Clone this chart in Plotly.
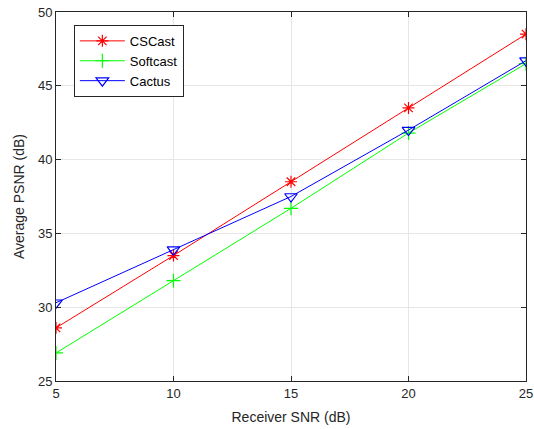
import plotly.graph_objects as go

snr = [5, 10, 15, 20, 25]
cscast = [28.6, 33.5, 38.5, 43.5, 48.5]
softcast = [26.9, 31.8, 36.7, 41.8, 46.5]
cactus = [30.3, 33.9, 37.5, 42.0, 46.7]

fig = go.Figure()
fig.add_trace(go.Scatter(x=snr, y=cscast, name="CSCast", mode="lines+markers",
                         line=dict(color="#ff0000", width=1),
                         marker=dict(symbol="asterisk-open", size=10, line=dict(color="#ff0000", width=1.2))))
fig.add_trace(go.Scatter(x=snr, y=softcast, name="Softcast", mode="lines+markers",
                         line=dict(color="#00ff00", width=1),
                         marker=dict(symbol="cross-thin-open", size=10, line=dict(color="#00ff00", width=1.2))))
fig.add_trace(go.Scatter(x=snr, y=cactus, name="Cactus", mode="lines+markers",
                         line=dict(color="#0000ff", width=1),
                         marker=dict(symbol="triangle-down-open", size=11, line=dict(color="#0000ff", width=1.2))))

axis_common = dict(showline=True, linecolor="#262626", linewidth=1, mirror="ticks",
                   ticks="inside", ticklen=5, tickcolor="#262626",
                   showgrid=True, gridcolor="#e6e6e6", gridwidth=1, zeroline=False,
                   automargin=False, ticklabeloverflow="allow",
                   tickfont=dict(family="Liberation Sans, Arial", size=13, color="#262626"),
                   title_font=dict(family="Liberation Sans, Arial", size=14, color="#262626"))

fig.update_layout(
    width=534, height=429,
    margin=dict(l=56, r=8, t=12, b=48, autoexpand=False),
    paper_bgcolor="white", plot_bgcolor="white",
    xaxis=dict(range=[5, 25], tickvals=[5, 10, 15, 20, 25], title=dict(text="Receiver SNR (dB)", standoff=12), **axis_common),
    yaxis=dict(range=[25, 50], tickvals=[25, 30, 35, 40, 45, 50], title=dict(text="Average PSNR (dB)", standoff=10), **axis_common),
    legend=dict(x=0.038, y=0.965, xanchor="left", yanchor="top", bgcolor="white",
                bordercolor="#262626", borderwidth=1,
                font=dict(family="Liberation Sans, Arial", size=13, color="black"),
                tracegroupgap=0, itemwidth=45),
    showlegend=True,
)

fig.write_html("out.html", config={"displayModeBar": False},
               post_script="document.body.style.margin='0';document.body.style.overflow='hidden';")
